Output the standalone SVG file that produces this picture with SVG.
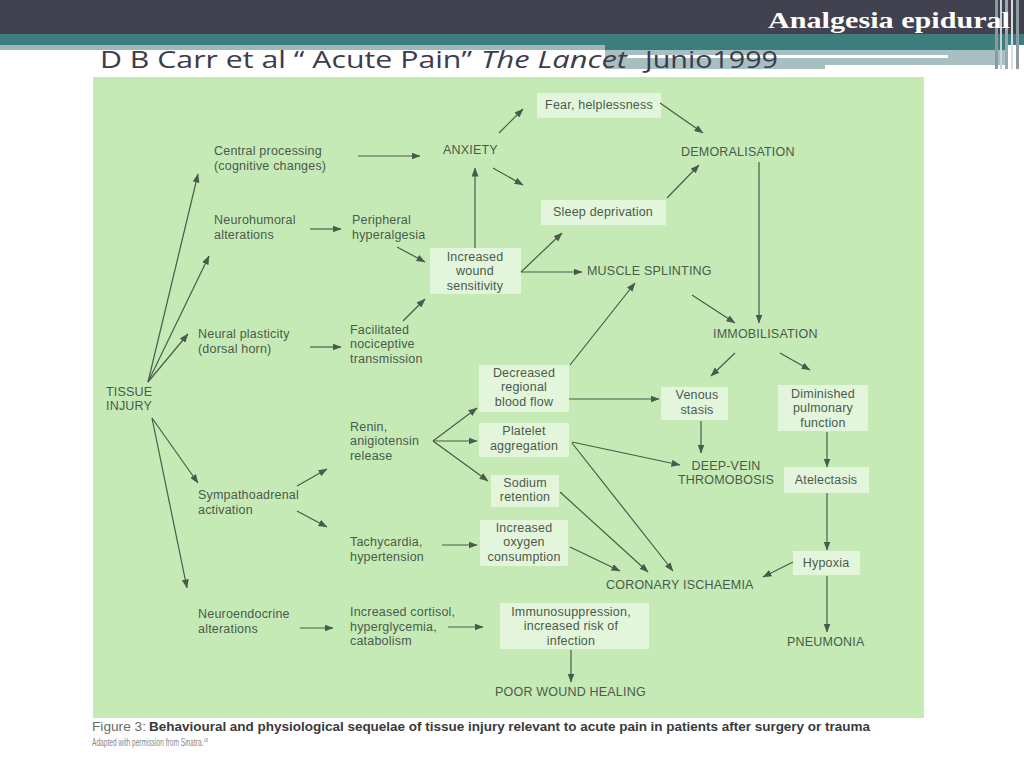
<svg xmlns="http://www.w3.org/2000/svg" width="1024" height="768" viewBox="0 0 1024 768">
<defs>
<marker id="ah" markerUnits="userSpaceOnUse" markerWidth="9" markerHeight="7" refX="8.5" refY="3.5" orient="auto">
<path d="M0,0 L9,3.5 L0,7 z" fill="#4a5a4c"/>
</marker>
<style>
.t{font-family:"Liberation Sans",Arial,sans-serif;font-size:12.5px;letter-spacing:0.2px;fill:#4a5a4c}
.c{text-anchor:middle}
.b{fill:#e3f6db}
.cn line{stroke:#4a5a4c;stroke-width:1.2;marker-end:url(#ah)}
</style>
</defs>
<rect x="0" y="0" width="1024" height="768" fill="#ffffff"/>
<g id="header">
<rect x="0" y="0" width="1024" height="34" fill="#41414f"/>
<rect x="0" y="34" width="1024" height="11" fill="#3e7d7d"/>
<rect x="0" y="45" width="605" height="5" fill="#9fb7b8"/>
<rect x="605" y="45" width="400" height="5" fill="#3e7d7d"/>
<rect x="605" y="50" width="400" height="19" fill="#a8bfc1"/>
<rect x="627" y="55" width="321" height="3" fill="#ffffff"/>
<rect x="825" y="65" width="180" height="4" fill="#ffffff"/>
<rect x="995" y="0" width="3" height="69" fill="#8a9aa0"/>
<rect x="1000" y="0" width="2" height="69" fill="#c8d2d6"/>
<rect x="1005" y="0" width="3" height="69" fill="#9aa8ad"/>
<rect x="1011" y="0" width="2" height="69" fill="#d5dde0"/>
<rect x="1016" y="0" width="3" height="69" fill="#8c9ca2"/>
<text x="768" y="28" font-family="'Liberation Serif',serif" font-weight="bold" font-size="24" fill="#ffffff" textLength="242" lengthAdjust="spacingAndGlyphs">Analgesia epidural</text>
<text x="100" y="68" font-family="'Open Sans','Liberation Sans',sans-serif" font-size="24" fill="#3c3c4a" textLength="372" lengthAdjust="spacingAndGlyphs">D B Carr et al “ Acute Pain”</text>
<text x="481" y="68" font-family="'Open Sans','Liberation Sans',sans-serif" font-style="italic" font-size="24" fill="#3c3c4a" textLength="146" lengthAdjust="spacingAndGlyphs">The Lancet</text>
<text x="645" y="68" font-family="'Open Sans','Liberation Sans',sans-serif" font-size="24" fill="#3c3c4a" textLength="133" lengthAdjust="spacingAndGlyphs">Junio1999</text>
</g>
<rect id="panel" x="93" y="77" width="831" height="641" fill="#c6eab6"/>
<g id="nodes">
<g id="central"><text class="t" x="214" y="155">Central processing</text><text class="t" x="214" y="170">(cognitive changes)</text></g>
<g id="anxiety"><text class="t" x="443" y="154">ANXIETY</text></g>
<g id="fear"><rect class="b" x="537" y="93" width="124" height="25"/><text class="t c" x="599" y="109">Fear, helplessness</text></g>
<g id="demoralisation"><text class="t" x="681" y="156">DEMORALISATION</text></g>
<g id="neurohumoral"><text class="t" x="214" y="224">Neurohumoral</text><text class="t" x="214" y="239">alterations</text></g>
<g id="peripheral"><text class="t" x="352" y="224">Peripheral</text><text class="t" x="352" y="239">hyperalgesia</text></g>
<g id="sleep"><rect class="b" x="541" y="200" width="125" height="25"/><text class="t c" x="603" y="216">Sleep deprivation</text></g>
<g id="wound"><rect class="b" x="430" y="248" width="91" height="46"/><text class="t c" x="475" y="261">Increased</text><text class="t c" x="475" y="275">wound</text><text class="t c" x="475" y="290">sensitivity</text></g>
<g id="muscle"><text class="t" x="587" y="275">MUSCLE SPLINTING</text></g>
<g id="neural"><text class="t" x="198" y="338">Neural plasticity</text><text class="t" x="198" y="353">(dorsal horn)</text></g>
<g id="facilitated"><text class="t" x="350" y="334">Facilitated</text><text class="t" x="350" y="348">nociceptive</text><text class="t" x="350" y="363">transmission</text></g>
<g id="immobilisation"><text class="t" x="713" y="338">IMMOBILISATION</text></g>
<g id="tissue"><text class="t" x="106" y="396">TISSUE</text><text class="t" x="106" y="410">INJURY</text></g>
<g id="decreased"><rect class="b" x="479" y="365" width="90" height="47"/><text class="t c" x="524" y="377">Decreased</text><text class="t c" x="524" y="391">regional</text><text class="t c" x="524" y="406">blood flow</text></g>
<g id="venous"><rect class="b" x="661" y="387" width="67" height="33"/><text class="t c" x="697" y="399">Venous</text><text class="t c" x="697" y="414">stasis</text></g>
<g id="diminished"><rect class="b" x="778" y="385" width="90" height="46"/><text class="t c" x="823" y="398">Diminished</text><text class="t c" x="823" y="412">pulmonary</text><text class="t c" x="823" y="427">function</text></g>
<g id="renin"><text class="t" x="350" y="431">Renin,</text><text class="t" x="350" y="445">anigiotensin</text><text class="t" x="350" y="460">release</text></g>
<g id="platelet"><rect class="b" x="479" y="423" width="90" height="34"/><text class="t c" x="524" y="435">Platelet</text><text class="t c" x="524" y="450">aggregation</text></g>
<g id="sodium"><rect class="b" x="491" y="475" width="68" height="32"/><text class="t c" x="525" y="487">Sodium</text><text class="t c" x="525" y="501">retention</text></g>
<g id="dvt"><text class="t c" x="726" y="470">DEEP-VEIN</text><text class="t c" x="726" y="484">THROMOBOSIS</text></g>
<g id="atelectasis"><rect class="b" x="784" y="467" width="85" height="26"/><text class="t c" x="826" y="484">Atelectasis</text></g>
<g id="sympathoadrenal"><text class="t" x="198" y="499">Sympathoadrenal</text><text class="t" x="198" y="514">activation</text></g>
<g id="tachycardia"><text class="t" x="350" y="546">Tachycardia,</text><text class="t" x="350" y="561">hypertension</text></g>
<g id="oxygen"><rect class="b" x="480" y="520" width="88" height="46"/><text class="t c" x="524" y="532">Increased</text><text class="t c" x="524" y="546">oxygen</text><text class="t c" x="524" y="561">consumption</text></g>
<g id="hypoxia"><rect class="b" x="793" y="551" width="67" height="24"/><text class="t c" x="826" y="567">Hypoxia</text></g>
<g id="coronary"><text class="t" x="606" y="589">CORONARY ISCHAEMIA</text></g>
<g id="neuroendocrine"><text class="t" x="198" y="618">Neuroendocrine</text><text class="t" x="198" y="633">alterations</text></g>
<g id="cortisol"><text class="t" x="350" y="616">Increased cortisol,</text><text class="t" x="350" y="631">hyperglycemia,</text><text class="t" x="350" y="645">catabolism</text></g>
<g id="immuno"><rect class="b" x="500" y="603" width="149" height="46"/><text class="t c" x="571" y="616">Immunosuppression,</text><text class="t c" x="571" y="630">increased risk of</text><text class="t c" x="571" y="645">infection</text></g>
<g id="pneumonia"><text class="t" x="787" y="646">PNEUMONIA</text></g>
<g id="poor"><text class="t" x="495" y="696">POOR WOUND HEALING</text></g>
</g>
<g id="connectors" class="cn">
<line x1="148" y1="382" x2="198" y2="174"/>
<line x1="148" y1="382" x2="209" y2="256"/>
<line x1="148" y1="382" x2="188" y2="334"/>
<line x1="152" y1="418" x2="198" y2="483"/>
<line x1="152" y1="418" x2="187" y2="588"/>
<line x1="358" y1="156" x2="420" y2="156"/>
<line x1="310" y1="229" x2="341" y2="229"/>
<line x1="310" y1="347" x2="341" y2="347"/>
<line x1="300" y1="628" x2="333" y2="628"/>
<line x1="297" y1="486" x2="327" y2="469"/>
<line x1="297" y1="511" x2="327" y2="527"/>
<line x1="397" y1="247" x2="425" y2="262"/>
<line x1="403" y1="321" x2="425" y2="299"/>
<line x1="475" y1="248" x2="475" y2="168"/>
<line x1="499" y1="133" x2="523" y2="109"/>
<line x1="493" y1="168" x2="523" y2="185"/>
<line x1="660" y1="103" x2="703" y2="133"/>
<line x1="667" y1="198" x2="699" y2="165"/>
<line x1="521" y1="272" x2="562" y2="233"/>
<line x1="521" y1="272" x2="582" y2="272"/>
<line x1="759" y1="162" x2="759" y2="323"/>
<line x1="692" y1="295" x2="735" y2="323"/>
<line x1="570" y1="365" x2="635" y2="283"/>
<line x1="735" y1="353" x2="711" y2="376"/>
<line x1="780" y1="353" x2="810" y2="370"/>
<line x1="433" y1="441" x2="477" y2="408"/>
<line x1="433" y1="441" x2="477" y2="441"/>
<line x1="433" y1="441" x2="488" y2="481"/>
<line x1="569" y1="399" x2="659" y2="399"/>
<line x1="572" y1="442" x2="680" y2="465"/>
<line x1="572" y1="443" x2="673" y2="571"/>
<line x1="560" y1="492" x2="648" y2="572"/>
<line x1="442" y1="545" x2="477" y2="545"/>
<line x1="570" y1="547" x2="620" y2="571"/>
<line x1="701" y1="421" x2="701" y2="453"/>
<line x1="827" y1="432" x2="827" y2="467"/>
<line x1="827" y1="493" x2="827" y2="550"/>
<line x1="793" y1="562" x2="763" y2="577"/>
<line x1="827" y1="576" x2="827" y2="632"/>
<line x1="448" y1="627" x2="483" y2="627"/>
<line x1="571" y1="650" x2="571" y2="682"/>
</g>
<g id="caption">
<text x="92" y="731" font-family="'Liberation Sans',Arial,sans-serif" font-size="12" fill="#6a6a6a" textLength="54" lengthAdjust="spacingAndGlyphs">Figure 3:</text>
<text x="149" y="731" font-family="'Liberation Sans',Arial,sans-serif" font-size="12" font-weight="bold" fill="#3a3a3a" textLength="721" lengthAdjust="spacingAndGlyphs">Behavioural and physiological sequelae of tissue injury relevant to acute pain in patients after surgery or trauma</text>
<g transform="translate(92,746) scale(0.66,1)">
<text x="0" y="0" font-family="'Liberation Sans',Arial,sans-serif" font-size="10" fill="#888888">Adapted with permission from Sinatra.<tspan font-size="6" dy="-4">18</tspan></text>
</g>
</g>
</svg>
